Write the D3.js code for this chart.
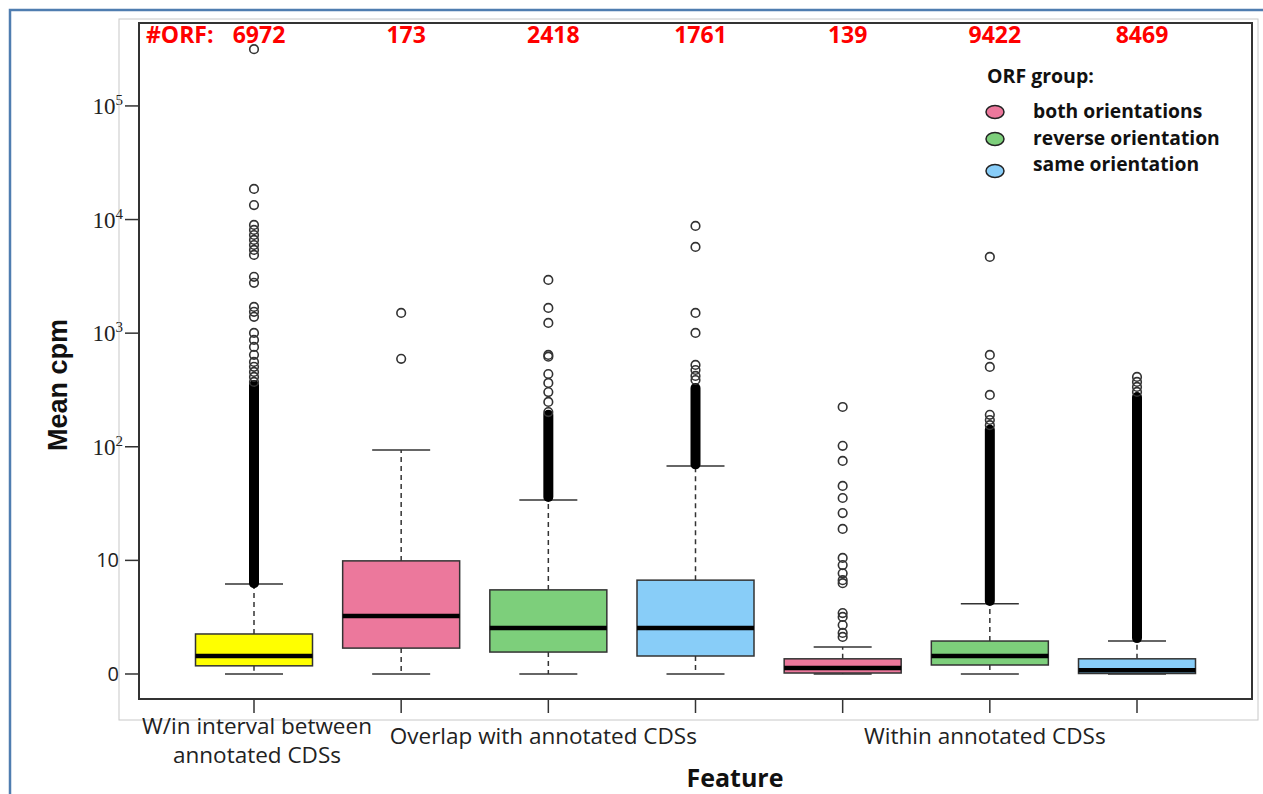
<!DOCTYPE html>
<html>
<head>
<meta charset="utf-8">
<script src="https://cdn.jsdelivr.net/npm/d3@7"></script>
<style>
  body { margin: 0; background: #fff; }
  svg { display: block; }
</style>
</head>
<body>
<script>
// one box per (feature, ORF group)
const boxGroup   = ["none", "both", "reverse", "same", "both", "reverse", "same"];
const orfCounts  = [6972, 173, 2418, 1761, 139, 9422, 8469];
const whiskerLow = [0, 0, 0, 0, 0, 0, 0];
const q1         = [0.18, 0.69, 0.56, 0.44, 0.02, 0.2, 0.01];
const medians    = [0.44, 2.24, 1.54, 1.54, 0.13, 0.44, 0.08];
const q3         = [1.25, 8.9, 4.5, 5.7, 0.36, 0.95, 0.36];
const whiskerHigh = [5.2, 92.6, 33, 66.8, 0.73, 3.15, 0.95];

// individual outliers
const outliers = [
  [316000, 18600, 13400, 8960, 8100, 7310, 6610, 5970, 5400, 4880, 3130, 2770,
   1700, 1540, 1390, 1004, 871, 756, 643, 557, 504, 455, 411, 371],
  [1506, 593],
  [2940, 1667, 1230, 642, 620, 436, 364, 302, 247, 201],
  [8790, 5740, 1506, 1003, 524, 473, 419, 386],
  [223, 101, 74, 44.2, 34.4, 25.1, 17.9, 9.5, 8.1, 6.7, 5.7, 5.3, 2.44, 2.18, 1.7, 1.3, 1.12],
  [4690, 642, 503, 285, 190, 171, 154],
  [411, 371, 335, 303]
];
// ranges where outliers overlap into a solid column [low, high]
const denseOutliers = [[5.3, 349], null, [35.2, 190], [69, 328], null, [3.4, 140], [1.07, 273]];

const featureLabels = [["W/in interval between", "annotated CDSs"], ["Overlap with annotated CDSs"], ["Within annotated CDSs"]];
const featureAtBox = [0, 2, 5];

const orfGroups = ["both orientations", "reverse orientation", "same orientation"];
const groupKeys = ["both", "reverse", "same"];
const groupColors = {none: "#ffff00", both: "#ec789c", reverse: "#7dcf7b", same: "#88cdf8"};

const yTickExp = [0, 1, 2, 3, 4, 5];

const width = 1263, height = 794;
const plot = {left: 139, right: 1252, top: 23, bottom: 699};

const svg = d3.select("body").append("svg")
    .attr("width", width)
    .attr("height", height);

// page frames
svg.append("rect")
    .attr("x", 10).attr("y", 10)
    .attr("width", width + 20).attr("height", height + 20)
    .attr("fill", "none")
    .attr("stroke", "#4f7db0")
    .attr("stroke-width", 2.5);

svg.append("rect")
    .attr("x", 119).attr("y", 19)
    .attr("width", 1139).attr("height", 701)
    .attr("fill", "none")
    .attr("stroke", "#c8c8c8")
    .attr("stroke-width", 1);

const x = d3.scalePoint()
    .domain(d3.range(orfCounts.length))
    .range([254, 1137]);

// log10(cpm + 1) axis
const y = d3.scaleSymlog()
    .constant(1)
    .domain([-0.66, 537000])
    .range([plot.bottom, plot.top]);

const boxW = 117;
const capW = 58;

// y axis
const yAxis = svg.append("g");
yTickExp.forEach(k => {
    const v = Math.pow(10, k) - 1;
    const yy = y(v);
    yAxis.append("line")
        .attr("x1", 125).attr("x2", plot.left)
        .attr("y1", yy).attr("y2", yy)
        .attr("stroke", "#333").attr("stroke-width", 1.5);
    if (k < 2) {
        yAxis.append("text")
            .attr("x", 119).attr("y", yy + 7)
            .attr("text-anchor", "end")
            .attr("font-family", "Open Sans, sans-serif")
            .attr("font-size", 20)
            .attr("fill", "#222")
            .text(k === 0 ? "0" : "10");
    } else {
        const t = yAxis.append("text")
            .attr("x", 123).attr("y", yy + 8)
            .attr("text-anchor", "end")
            .attr("font-family", "Liberation Serif, serif")
            .attr("font-size", 23)
            .attr("fill", "#222");
        t.append("tspan").text("10");
        t.append("tspan")
            .attr("dy", -9)
            .attr("font-size", 15)
            .text(k);
    }
});

// x ticks
svg.append("g").selectAll("line")
    .data(x.domain())
    .join("line")
    .attr("x1", d => x(d)).attr("x2", d => x(d))
    .attr("y1", plot.bottom).attr("y2", 713)
    .attr("stroke", "#333").attr("stroke-width", 1.5);

const boxes = svg.append("g");

x.domain().forEach(i => {
    const cx = x(i);
    const g = boxes.append("g");
    // whiskers (dashed)
    g.append("line")
        .attr("x1", cx).attr("x2", cx)
        .attr("y1", y(q3[i])).attr("y2", y(whiskerHigh[i]))
        .attr("stroke", "#333").attr("stroke-width", 1.5)
        .attr("stroke-dasharray", "5,4");
    g.append("line")
        .attr("x1", cx).attr("x2", cx)
        .attr("y1", y(q1[i])).attr("y2", y(whiskerLow[i]))
        .attr("stroke", "#333").attr("stroke-width", 1.5)
        .attr("stroke-dasharray", "5,4");
    // caps
    [whiskerHigh[i], whiskerLow[i]].forEach(v => {
        g.append("line")
            .attr("x1", cx - capW / 2).attr("x2", cx + capW / 2)
            .attr("y1", y(v)).attr("y2", y(v))
            .attr("stroke", "#333").attr("stroke-width", 1.5);
    });
    // box
    g.append("rect")
        .attr("x", cx - boxW / 2)
        .attr("y", y(q3[i]))
        .attr("width", boxW)
        .attr("height", y(q1[i]) - y(q3[i]))
        .attr("fill", groupColors[boxGroup[i]])
        .attr("stroke", "#333")
        .attr("stroke-width", 1.5);
    // median
    g.append("line")
        .attr("x1", cx - boxW / 2).attr("x2", cx + boxW / 2)
        .attr("y1", y(medians[i])).attr("y2", y(medians[i]))
        .attr("stroke", "#000").attr("stroke-width", 4.5);

    // dense outlier column
    if (denseOutliers[i]) {
        g.append("line")
            .attr("x1", cx).attr("x2", cx)
            .attr("y1", y(denseOutliers[i][0])).attr("y2", y(denseOutliers[i][1]))
            .attr("stroke", "#000")
            .attr("stroke-width", 10)
            .attr("stroke-linecap", "round");
    }
    g.selectAll("circle")
        .data(outliers[i])
        .join("circle")
        .attr("cx", cx)
        .attr("cy", d => y(d))
        .attr("r", 4.3)
        .attr("fill", "none")
        .attr("stroke", "#333")
        .attr("stroke-width", 1.6);
});

// plot frame
svg.append("rect")
    .attr("x", plot.left).attr("y", plot.top)
    .attr("width", plot.right - plot.left)
    .attr("height", plot.bottom - plot.top)
    .attr("fill", "none")
    .attr("stroke", "#333")
    .attr("stroke-width", 2);

// ORF counts on top
const redFont = "Open Sans, sans-serif";
svg.append("text")
    .attr("x", 146).attr("y", 43)
    .attr("font-family", redFont)
    .attr("font-weight", "bold")
    .attr("font-size", 23)
    .attr("fill", "#ff0000")
    .text("#ORF:");
svg.append("g").selectAll("text")
    .data(orfCounts)
    .join("text")
    .attr("x", (d, i) => x(i) + 5)
    .attr("y", 43)
    .attr("text-anchor", "middle")
    .attr("font-family", redFont)
    .attr("font-weight", "bold")
    .attr("font-size", 23)
    .attr("fill", "#ff0000")
    .text(d => d);

// legend
const legend = svg.append("g").attr("font-family", "Open Sans, sans-serif");
legend.append("text")
    .attr("x", 987).attr("y", 83)
    .attr("font-weight", "bold")
    .attr("font-size", 19.5)
    .attr("fill", "#111")
    .text("ORF group:");
const legendY = [112, 139, 165];
orfGroups.forEach((name, i) => {
    legend.append("ellipse")
        .attr("cx", 995).attr("cy", legendY[i] + (i === 2 ? 6 : 0))
        .attr("rx", 9).attr("ry", 6.5)
        .attr("fill", groupColors[groupKeys[i]])
        .attr("stroke", "#222")
        .attr("stroke-width", 1.5);
    legend.append("text")
        .attr("x", 1033).attr("y", legendY[i] + 6)
        .attr("font-weight", "bold")
        .attr("font-size", 19.3)
        .attr("fill", "#111")
        .text(name);
});

// feature labels
const catLabels = svg.append("g")
    .attr("font-family", "Open Sans, sans-serif")
    .attr("font-size", 22.5)
    .attr("fill", "#222")
    .attr("text-anchor", "middle");
featureLabels.forEach((lines, j) => {
    const cx = x(featureAtBox[j]) + (j === 0 ? 3 : -5);
    lines.forEach((line, k) => {
        catLabels.append("text")
            .attr("x", cx)
            .attr("y", (lines.length > 1 ? 734 : 744) + k * 29)
            .text(line);
    });
});

// axis titles
svg.append("text")
    .attr("x", 735).attr("y", 787)
    .attr("text-anchor", "middle")
    .attr("font-family", "Open Sans, sans-serif")
    .attr("font-weight", "bold")
    .attr("font-size", 25)
    .attr("fill", "#111")
    .text("Feature");

svg.append("text")
    .attr("transform", "translate(67,385) rotate(-90)")
    .attr("text-anchor", "middle")
    .attr("font-family", "Liberation Sans, Arial, sans-serif")
    .attr("font-weight", "bold")
    .attr("font-size", 27)
    .attr("fill", "#111")
    .text("Mean cpm");
</script>
</body>
</html>
